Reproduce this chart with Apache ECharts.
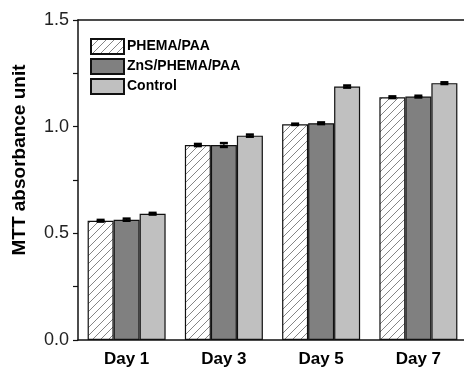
<!DOCTYPE html>
<html>
<head>
<meta charset="utf-8">
<script src="https://cdn.jsdelivr.net/npm/echarts@6/dist/echarts.min.js"></script>
<style>html,body{margin:0;padding:0;background:#fff}#c{width:464px;height:368px}</style>
</head>
<body>
<div id="c"></div>
<script>
var categories = ['Day 1', 'Day 3', 'Day 5', 'Day 7'];
var seriesNames = ['PHEMA/PAA', 'ZnS/PHEMA/PAA', 'Control'];
var phemaValues = [0.559, 0.914, 1.011, 1.138];
var znsValues = [0.564, 0.914, 1.016, 1.141];
var controlValues = [0.592, 0.958, 1.188, 1.204];
var phemaErr = [0.004, 0.005, 0.003, 0.004];
var znsErr = [0.005, 0.009, 0.004, 0.004];
var controlErr = [0.004, 0.005, 0.005, 0.004];
var yTicks = ['0.0', '0.5', '1.0', '1.5'];
var yTitle = 'MTT absorbance unit';

function hatch() {
  var s = 8;
  var cv = document.createElement('canvas');
  cv.width = s; cv.height = s;
  var g = cv.getContext('2d');
  g.fillStyle = '#fff'; g.fillRect(0, 0, s, s);
  g.strokeStyle = '#666'; g.lineWidth = 0.8;
  g.beginPath();
  g.moveTo(-1, s + 1); g.lineTo(s + 1, -1);
  g.moveTo(-1, 1); g.lineTo(1, -1);
  g.moveTo(s - 1, s + 1); g.lineTo(s + 1, s - 1);
  g.stroke();
  return cv;
}

var chart = echarts.init(document.getElementById('c'), null, {renderer: 'canvas'});
var styles = [
  {color: {image: hatch(), repeat: 'repeat'}, borderColor: '#111', borderWidth: 1.2},
  {color: '#808080', borderColor: '#111', borderWidth: 1.2},
  {color: '#c0c0c0', borderColor: '#111', borderWidth: 1.2}
];
var vals = [phemaValues, znsValues, controlValues];
var errs = [phemaErr, znsErr, controlErr];

var series = [];
for (var i = 0; i < 3; i++) {
  series.push({
    name: seriesNames[i], type: 'bar', data: vals[i],
    barWidth: 26, barGap: '0%', itemStyle: styles[i], silent: true
  });
}
for (var i = 0; i < 3; i++) {
  (function (idx) {
    series.push({
      type: 'custom', silent: true, z: 5,
      data: vals[idx].map(function (v, k) { return [k, v - errs[idx][k], v + errs[idx][k]]; }),
      renderItem: function (params, api) {
        var k = api.value(0);
        var lo = api.coord([k, api.value(1)]);
        var hi = api.coord([k, api.value(2)]);
        var x = lo[0] + (idx - 1) * 26;
        var hw = 4;
        return {
          type: 'group',
          children: [
            {type: 'line', shape: {x1: x, y1: lo[1], x2: x, y2: hi[1]}, style: {stroke: '#000', lineWidth: 1.2}},
            {type: 'line', shape: {x1: x - hw, y1: lo[1], x2: x + hw, y2: lo[1]}, style: {stroke: '#000', lineWidth: 2.5}},
            {type: 'line', shape: {x1: x - hw, y1: hi[1], x2: x + hw, y2: hi[1]}, style: {stroke: '#000', lineWidth: 2.5}}
          ]
        };
      }
    });
  })(i);
}

chart.setOption({
  animation: false,
  backgroundColor: '#fff',
  textStyle: {fontFamily: 'Liberation Sans, Arial, sans-serif'},
  grid: {left: 78, top: 20, height: 320, width: 389, containLabel: false, outerBoundsMode: 'none', show: false},
  legend: {
    orient: 'vertical', left: 85, top: 33, itemWidth: 33, itemHeight: 15, itemGap: 3,
    icon: 'rect',
    data: seriesNames,
    textStyle: {fontFamily: 'Liberation Sans, Arial, sans-serif', fontWeight: 'bold', fontSize: 14, color: '#000', padding: [0, 0, 0, -2]}
  },
  graphic: [{
    type: 'text', x: 20, y: 160, rotation: Math.PI / 2, silent: true,
    style: {text: yTitle, fontFamily: 'Liberation Sans, Arial, sans-serif', fontWeight: 'bold', fontSize: 19,
            fill: '#000', align: 'center', verticalAlign: 'middle'}
  }],
  xAxis: [{
    type: 'category', data: categories, boundaryGap: true,
    axisLine: {lineStyle: {color: '#111', width: 1.5}},
    axisTick: {show: false},
    axisLabel: {color: '#000', fontWeight: 'bold', fontSize: 17, margin: 11}
  }, {
    type: 'category', data: categories, position: 'top', boundaryGap: true,
    axisLine: {show: true, lineStyle: {color: '#111', width: 1.5}},
    axisTick: {show: false}, axisLabel: {show: false}
  }],
  yAxis: {
    type: 'value', min: 0, max: 1.5, interval: 0.5,
    axisLine: {show: true, lineStyle: {color: '#111', width: 1.5}},
    axisTick: {show: true, length: 5, lineStyle: {color: '#111', width: 1.2}},
    minorTick: {show: true, splitNumber: 2, length: 5, lineStyle: {color: '#111', width: 1.2}},
    splitLine: {show: false},
    axisLabel: {color: '#222', fontSize: 18, margin: 9, formatter: function (v) { return yTicks[Math.round(v / 0.5)]; }}
  },
  series: series
});
</script>
</body>
</html>
